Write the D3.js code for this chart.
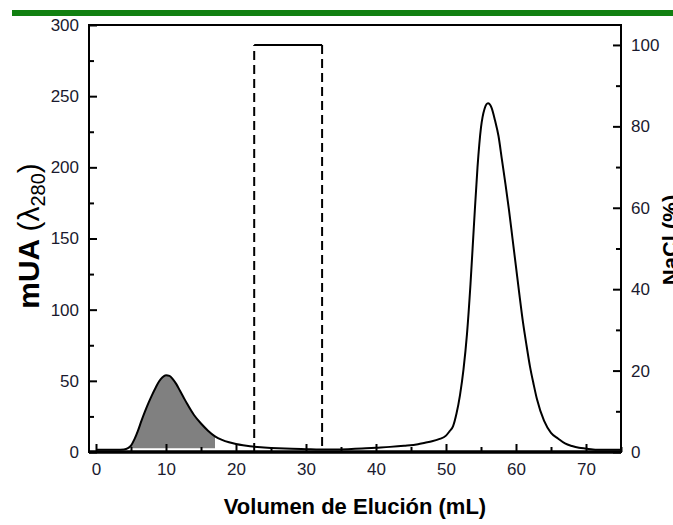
<!DOCTYPE html>
<html>
<head>
<meta charset="utf-8">
<script src="https://cdn.jsdelivr.net/npm/d3@7"></script>
<style>
  body { margin: 0; background: #fff; }
  svg { display: block; font-family: "Liberation Sans", Arial, sans-serif; }
  .tick text { fill: #1a1a2e; }
</style>
</head>
<body>
<svg id="chart" width="673" height="525"></svg>
<script>
// elution volume (mL) and absorbance (mUA)
var volume = [0, 1, 2, 3, 4, 4.5, 5, 5.5, 6, 6.5, 7, 7.5, 8, 8.5, 9, 9.5, 10, 10.5, 11, 11.5, 12, 12.5, 13,
  14, 15, 16, 17, 18, 19, 20, 21, 22, 24, 26, 28, 30, 32, 34, 36, 38, 40, 42, 44, 46, 47, 48, 49, 50,
  50.5, 51, 51.5, 52, 52.5, 53, 53.5, 54, 54.5, 55, 55.5, 56, 56.5, 57, 57.5, 58, 58.5, 59, 59.5, 60,
  60.5, 61, 61.5, 62, 62.5, 63, 64, 65, 66, 67, 68, 69, 70, 71, 72, 73, 74, 75];
var absorbance = [1.5, 1.5, 1.5, 1.5, 1.8, 2.5, 4.5, 9, 15, 22, 28.5, 34.5, 40, 45, 49.5, 52.5, 54, 53.5, 51, 47.5, 43, 38.5, 34,
  26, 20, 15, 11, 8.5, 6.8, 5.6, 4.7, 4, 3.2, 2.6, 2.2, 2, 1.8, 1.8, 2, 2.4, 3, 3.6, 4.4, 5.5, 6.5, 7.5, 9, 11.5,
  14.5, 18, 27, 40, 58, 83, 118, 160, 200, 228, 241, 245, 242, 233, 222, 205, 188, 170, 150, 130,
  110, 91, 75, 60, 48, 37, 22, 13.5, 9.5, 6, 4.2, 3, 2.4, 1.8, 1.6, 1.5, 1.5, 1.5];

// NaCl step gradient (%)
var saltVolume = [0, 22.6, 22.6, 32.3, 32.3, 75];
var saltPercent = [0, 0, 100, 100, 0, 0];

// shaded fraction
var fracStart = 5;
var fracEnd = 17;

var xTicks = [0, 10, 20, 30, 40, 50, 60, 70];
var yTicks = [0, 50, 100, 150, 200, 250, 300];
var y2Ticks = [0, 20, 40, 60, 80, 100];

var svg = d3.select('#chart');

// green rule on top
svg.append('rect')
  .attr('x', 12).attr('y', 10)
  .attr('width', 661).attr('height', 6)
  .attr('fill', '#118011');

var x = d3.scaleLinear().domain([-1, 75]).range([89, 621]);
var y = d3.scaleLinear().domain([0, 300]).range([452, 25]);
var y2 = d3.scaleLinear().domain([0, 104.9]).range([452, 25]);

var data = volume.map(function(v, i) { return { v: v, a: absorbance[i] }; });

// gray fraction fill
var frac = data.filter(function(d) { return d.v >= fracStart && d.v <= fracEnd; });
svg.append('path')
  .datum(frac)
  .attr('fill', '#808080')
  .attr('d', d3.area()
    .x(function(d) { return x(d.v); })
    .y0(y(2.6))
    .y1(function(d) { return y(d.a); })
    .curve(d3.curveMonotoneX));

// absorbance trace
svg.append('path')
  .datum(data)
  .attr('fill', 'none')
  .attr('stroke', '#000')
  .attr('stroke-width', 2)
  .attr('d', d3.line()
    .x(function(d) { return x(d.v); })
    .y(function(d) { return y(d.a); })
    .curve(d3.curveMonotoneX));

// salt gradient, vertical steps dashed
for (var i = 1; i < saltVolume.length; i++) {
  var flat = saltPercent[i] === saltPercent[i - 1];
  svg.append('line')
    .attr('x1', x(saltVolume[i - 1])).attr('y1', y2(saltPercent[i - 1]))
    .attr('x2', x(saltVolume[i])).attr('y2', y2(saltPercent[i]))
    .attr('stroke', '#000')
    .attr('stroke-width', 2)
    .attr('stroke-dasharray', flat ? null : '9,5');
}

// axes (ticks pointing inwards)
function minor(step, lo, hi) {
  var out = [];
  for (var t = lo; t <= hi + 1e-9; t += step) out.push(t);
  return out;
}

svg.append('g')
  .attr('transform', 'translate(0,452)')
  .call(d3.axisBottom(x).tickValues(minor(5, 5, 75).filter(function(t) { return t % 10 !== 0; }))
    .tickSize(-5).tickSizeOuter(0).tickFormat(''));
svg.append('g')
  .attr('transform', 'translate(0,452)')
  .call(d3.axisBottom(x).tickValues(xTicks).tickSize(-8).tickSizeOuter(0).tickPadding(11));

svg.append('g')
  .attr('transform', 'translate(89,0)')
  .call(d3.axisLeft(y).tickValues(minor(50, 25, 275)).tickSize(-5).tickSizeOuter(0).tickFormat(''));
svg.append('g')
  .attr('transform', 'translate(89,0)')
  .call(d3.axisLeft(y).tickValues(yTicks).tickSize(-8).tickSizeOuter(0).tickPadding(10));

svg.append('g')
  .attr('transform', 'translate(621,0)')
  .call(d3.axisRight(y2).tickValues(minor(20, 10, 90)).tickSize(-5).tickSizeOuter(0).tickFormat(''));
svg.append('g')
  .attr('transform', 'translate(621,0)')
  .call(d3.axisRight(y2).tickValues(y2Ticks).tickSize(-8).tickSizeOuter(0).tickPadding(10));

svg.selectAll('.domain').remove();
svg.selectAll('.tick line').attr('stroke', '#000').attr('stroke-width', 2);
svg.selectAll('.tick text').style('font-size', '17px');

// frame
svg.append('rect')
  .attr('x', 89).attr('y', 25)
  .attr('width', 532).attr('height', 427)
  .attr('fill', 'none')
  .attr('stroke', '#000')
  .attr('stroke-width', 2);
svg.append('line')
  .attr('x1', 89).attr('x2', 621)
  .attr('y1', 452).attr('y2', 452)
  .attr('stroke', '#000').attr('stroke-width', 3.5);

// titles
svg.append('text')
  .attr('x', 355).attr('y', 514)
  .attr('text-anchor', 'middle')
  .style('font-size', '22px').style('font-weight', 'bold')
  .text('Volumen de Elución (mL)');

var yt = svg.append('text')
  .attr('transform', 'translate(39,236) rotate(-90)')
  .attr('text-anchor', 'middle')
  .style('font-size', '30px');
yt.append('tspan').style('font-weight', 'bold').text('mUA ');
yt.append('tspan').text('(λ');
yt.append('tspan').attr('dy', 6).style('font-size', '20px').text('280');
yt.append('tspan').attr('dy', -6).text(')');

svg.append('text')
  .attr('transform', 'translate(678,240) rotate(-90)')
  .attr('text-anchor', 'middle')
  .style('font-size', '22px').style('font-weight', 'bold')
  .text('NaCl (%)');
</script>
</body>
</html>
